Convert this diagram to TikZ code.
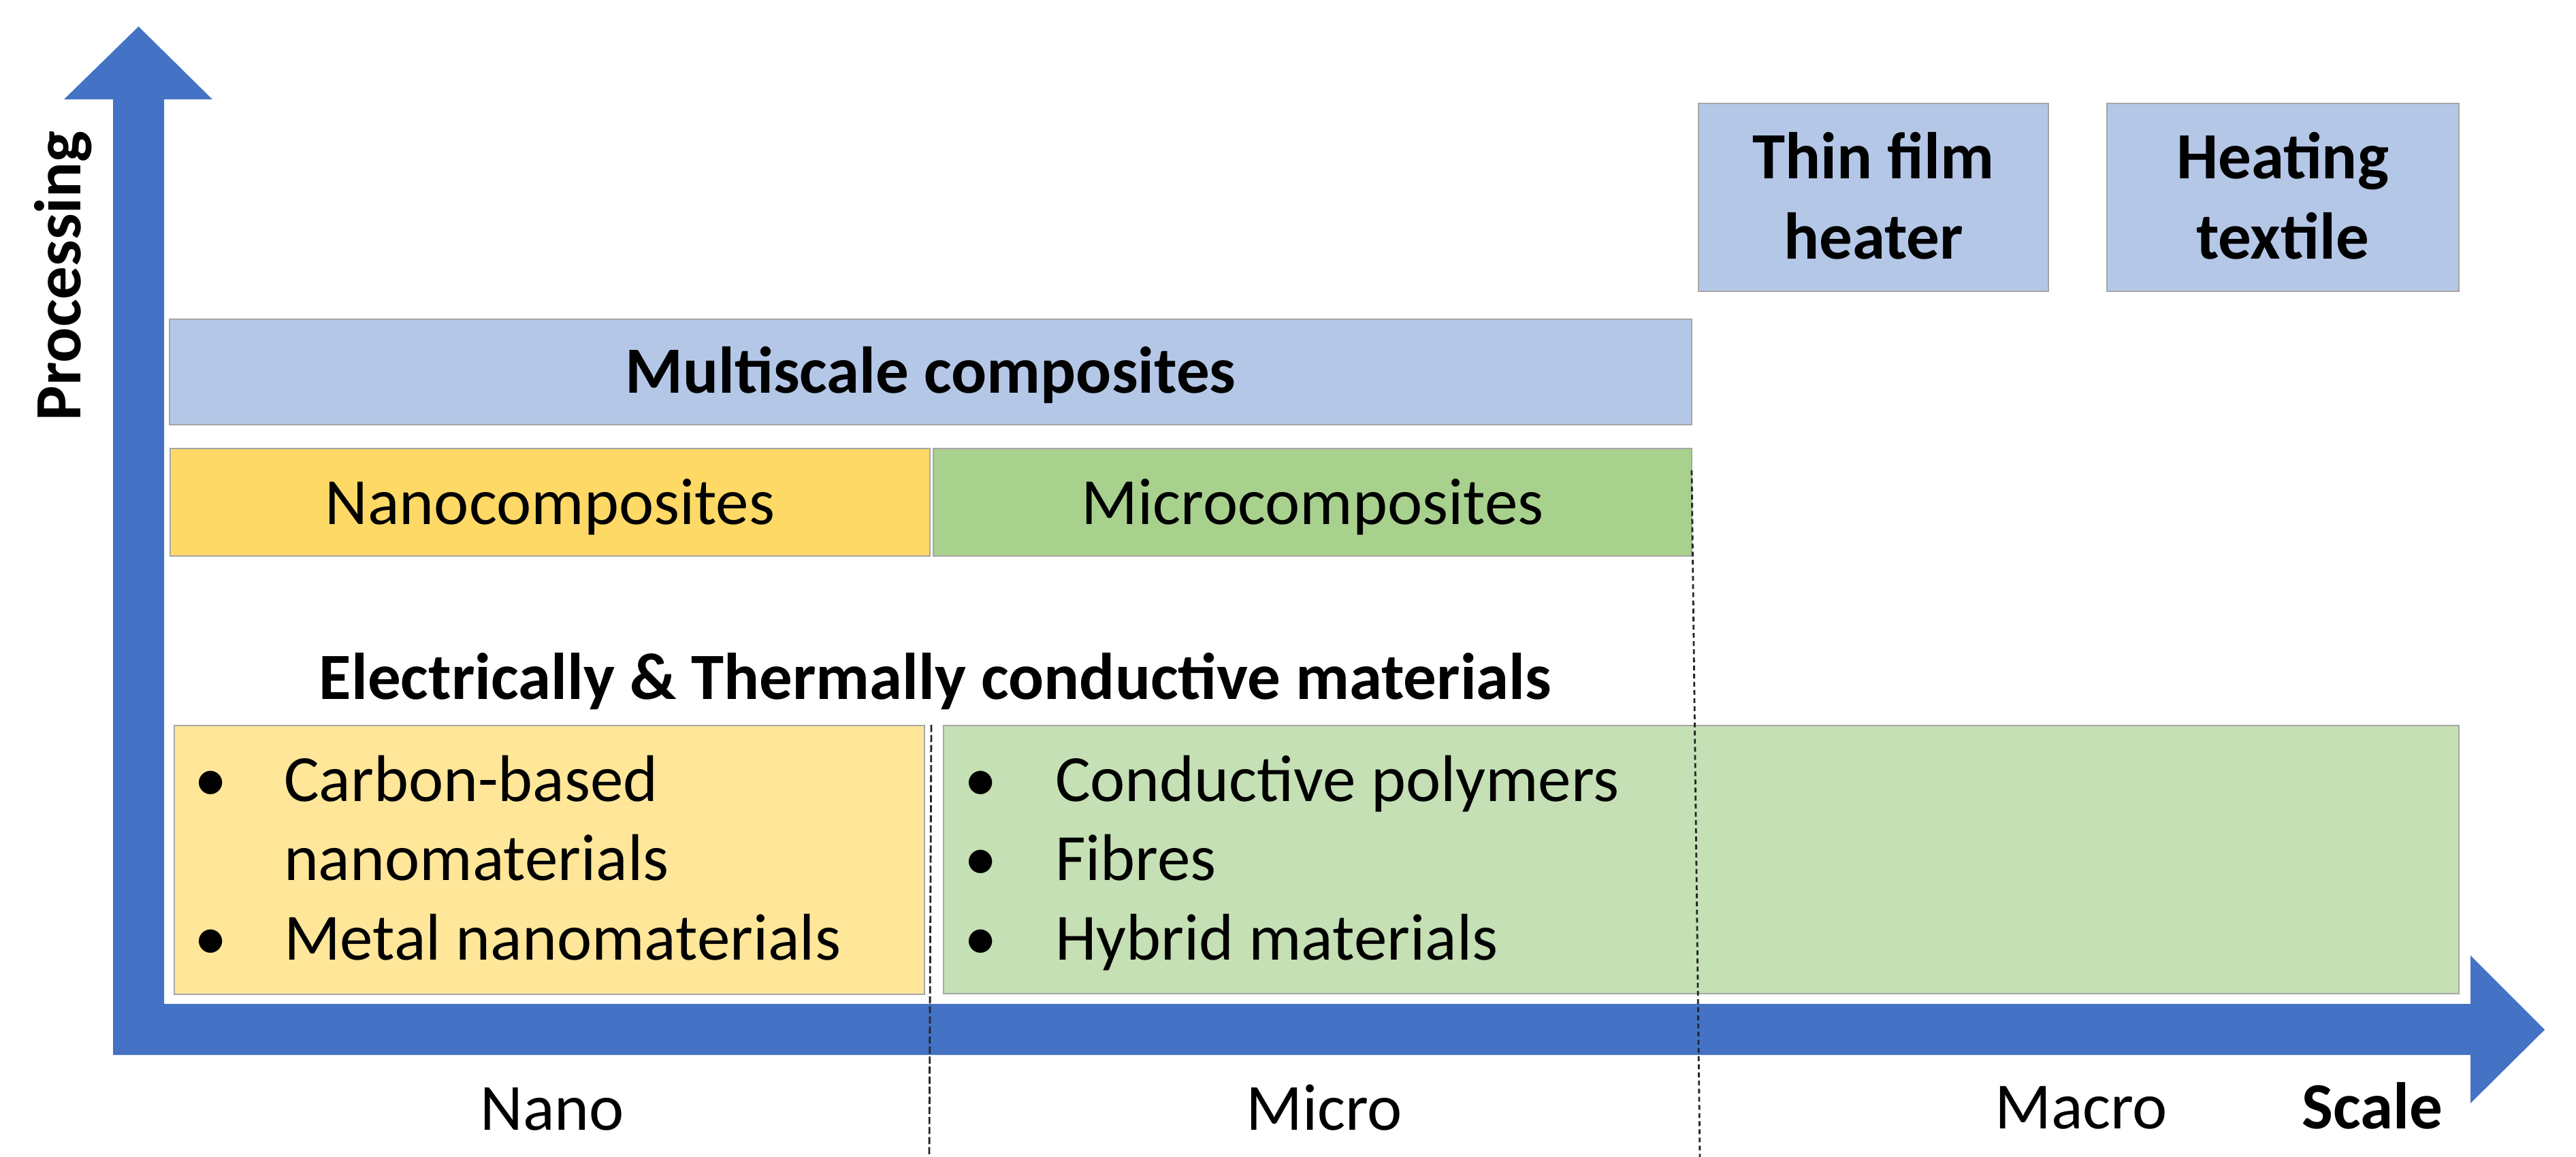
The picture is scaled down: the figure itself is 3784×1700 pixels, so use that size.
\documentclass[tikz,border=0pt]{standalone}
\usepackage{fontspec}
\setmainfont{Carlito}
\usetikzlibrary{fit}
\definecolor{axisblue}{HTML}{4472C4}
\definecolor{lightblue}{HTML}{B4C7E7}
\definecolor{gold}{HTML}{FFD966}
\definecolor{lightgold}{HTML}{FFE699}
\definecolor{green}{HTML}{A9D18E}
\definecolor{lightgreen}{HTML}{C5E0B4}
\definecolor{boxline}{HTML}{A6A6A6}
\begin{document}
\begin{tikzpicture}[x=0.01cm,y=-0.01cm,
  every node/.style={font=\fontsize{27.6}{33}\selectfont, inner sep=0pt, outer sep=0pt},
  box/.style={draw=boxline, line width=0.5pt, inner sep=0pt},
  boldtxt/.style={font=\fontsize{27.6}{33}\selectfont\bfseries},
  divider/.style={draw=black!85, line width=0.8pt}
]
\useasboundingbox (0,0) rectangle (3784,1700);

% axes (bent double arrow)
\fill[axisblue] (166,1550) -- (166,146) -- (94,146) -- (203.5,39) -- (312,146) -- (241,146)
  -- (241,1475) -- (3629,1475) -- (3629,1404) -- (3738,1513) -- (3629,1621) -- (3629,1550) -- cycle;

% axis titles
\node[boldtxt, rotate=90, anchor=base] (proc) at (118,405) {Processing};
\node[boldtxt, anchor=base] (scale) at (3485,1658) {Scale};
\node[anchor=base] (nano) at (811,1660) {Nano};
\node[anchor=base] (micro) at (1945,1660) {Micro};
\node[anchor=base] (macro) at (3057,1658) {Macro};

% upper boxes
\node[box, fill=lightblue, fit={(2495,152) (3009,428)}] (thin) {};
\node[anchor=base, boldtxt] (thinA) at (2752,263) {Thin film};
\node[anchor=base, boldtxt] (thinB) at (2752,380) {heater};
\node[box, fill=lightblue, fit={(3095,152) (3612,428)}] (heat) {};
\node[anchor=base, boldtxt] (heatA) at (3353,263) {Heating};
\node[anchor=base, boldtxt] (heatB) at (3353,380) {textile};

\node[box, fill=lightblue, fit={(249,469) (2485,624)}] (multi) {};
\node[anchor=base, boldtxt] (multiT) at (1367,577) {Multiscale composites};
\node[box, fill=gold, fit={(250,659) (1366,817)}] (nanoc) {};
\node[anchor=base] (nanocT) at (808,770) {Nanocomposites};
\node[box, fill=green, fit={(1371,659) (2485,817)}] (microc) {};
\node[anchor=base] (microcT) at (1928,770) {Microcomposites};

\node[anchor=base, boldtxt] (ect) at (1374,1027) {Electrically \& Thermally conductive materials};

% lower boxes
\node[box, fill=lightgold, fit={(256,1066) (1358,1461)}] (nanomat) {};
\node[box, fill=lightgreen, fit={(1386,1066) (3612,1460)}] (micromat) {};

\node[anchor=base] (b1) at (310,1177) {•};
\node[anchor=base west] (t1) at (417,1177) {Carbon-based};
\node[anchor=base west] (t1b) at (417,1293) {nanomaterials};
\node[anchor=base] (b2) at (310,1410) {•};
\node[anchor=base west] (t2) at (417,1410) {Metal nanomaterials};

\node[anchor=base] (b3) at (1441,1177) {•};
\node[anchor=base west] (t3) at (1550,1177) {Conductive polymers};
\node[anchor=base] (b4) at (1441,1293) {•};
\node[anchor=base west] (t4) at (1550,1293) {Fibres};
\node[anchor=base] (b5) at (1441,1410) {•};
\node[anchor=base west] (t5) at (1550,1410) {Hybrid materials};

% scale dividers
\coordinate (d1top) at (1368,1065);
\coordinate (d1bot) at (1365,1700);
\coordinate (d2top) at (2485,691);
\coordinate (d2bot) at (2497,1700);
\draw[divider, dash pattern=on 3pt off 1.2pt] (d1top) -- (d1bot);
\draw[divider, dash pattern=on 2pt off 1.4pt] (d2top) -- (d2bot);
\end{tikzpicture}
\end{document}
